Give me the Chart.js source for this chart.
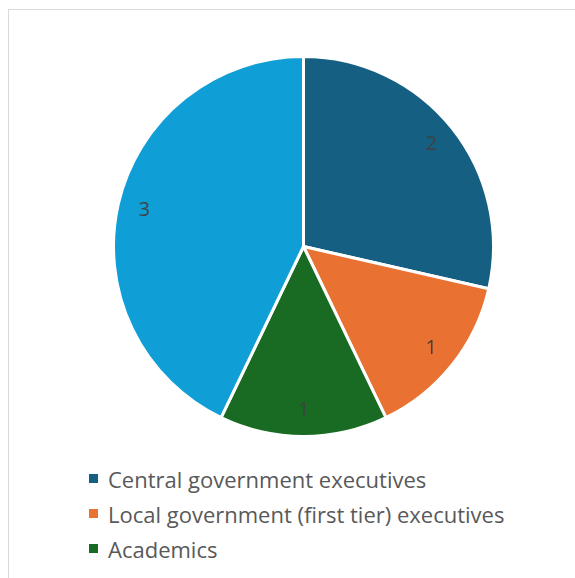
<!DOCTYPE html>
<html>
<head>
<meta charset="utf-8">
<script src="https://cdn.jsdelivr.net/npm/chart.js@4"></script>
<style>
    html, body { margin: 0; padding: 0; background: #ffffff; overflow: hidden; }
    #frame {
        position: absolute; left: 8px; top: 9px; width: 600px; height: 600px;
        border: 1px solid #d9d9d9; box-sizing: border-box; background: #fff;
    }
    #pieWrap { position: absolute; left: 112px; top: 55px; width: 383px; height: 383px; }
    #legend {
        position: absolute; left: 89px; top: 461px; margin: 0; padding: 0; list-style: none;
        font-family: "Open Sans", sans-serif; font-size: 22px; color: #595959;
    }
    #legend li { height: 35px; line-height: 28px; display: flex; align-items: center; }
    #legend span.box { display: inline-block; width: 9px; height: 9px; margin-right: 10px; }
</style>
</head>
<body>
<div id="frame"></div>
<div id="pieWrap"><canvas id="pieChart"></canvas></div>
<ul id="legend"></ul>
<script>
const categories = ["Central government executives", "Local government (first tier) executives", "Academics", ""];
const counts = [2, 1, 1, 3];
const sliceColors = ["#156082", "#E97132", "#196B24", "#0F9ED5"];

// writes each slice's value inside the slice, near the rim
const sliceValues = {
    id: "sliceValues",
    afterDatasetsDraw(chart) {
        const ctx = chart.ctx;
        const meta = chart.getDatasetMeta(0);
        ctx.save();
        ctx.font = '20px "Open Sans", sans-serif';
        ctx.fillStyle = "#404040";
        ctx.textAlign = "center";
        ctx.textBaseline = "middle";
        meta.data.forEach(function (arc, i) {
            const p = arc.getProps(["x", "y", "startAngle", "endAngle", "outerRadius"], true);
            const mid = (p.startAngle + p.endAngle) / 2;
            const r = p.outerRadius * 0.86;
            ctx.fillText(String(counts[i]), p.x + Math.cos(mid) * r, p.y + Math.sin(mid) * r);
        });
        ctx.restore();
    }
};

new Chart(document.getElementById("pieChart"), {
    type: "pie",
    data: {
        labels: categories,
        datasets: [{
            data: counts,
            backgroundColor: sliceColors,
            borderColor: "#ffffff",
            borderWidth: 3
        }]
    },
    options: {
        responsive: true,
        maintainAspectRatio: false,
        animation: false,
        layout: { padding: 0 },
        plugins: {
            legend: { display: false },
            tooltip: { enabled: false }
        }
    },
    plugins: [sliceValues]
});

// legend list, one entry per line
const legend = document.getElementById("legend");
categories.forEach(function (name, i) {
    if (!name) return;
    const li = document.createElement("li");
    li.innerHTML = '<span class="box" style="background:' + sliceColors[i] + '"></span>' + name;
    legend.appendChild(li);
});
</script>
</body>
</html>
